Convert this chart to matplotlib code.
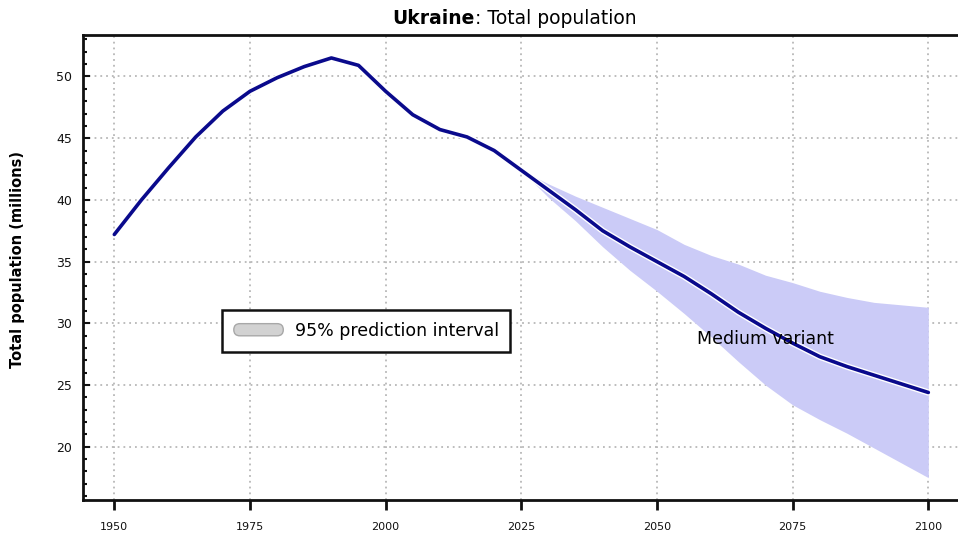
import matplotlib
matplotlib.use("Agg")
import matplotlib.pyplot as plt
import matplotlib.patheffects as pe
import matplotlib.patches as mpatches
from matplotlib.legend_handler import HandlerPatch
from matplotlib.ticker import MultipleLocator

years = [1950, 1955, 1960, 1965, 1970, 1975, 1980, 1985, 1990, 1995, 2000,
         2005, 2010, 2015, 2020, 2025, 2030, 2035, 2040, 2045, 2050, 2055,
         2060, 2065, 2070, 2075, 2080, 2085, 2090, 2095, 2100]
population = [37.2, 40.0, 42.6, 45.1, 47.2, 48.8, 49.9, 50.8, 51.5, 50.9, 48.8,
              46.9, 45.7, 45.1, 44.0, 42.4, 40.8, 39.2, 37.5, 36.2, 35.0, 33.8,
              32.4, 30.9, 29.6, 28.4, 27.3, 26.5, 25.8, 25.1, 24.4]

band_years = [2025, 2030, 2035, 2040, 2045, 2050, 2055, 2060, 2065, 2070,
              2075, 2080, 2085, 2090, 2095, 2100]
band_lower = [42.4, 40.2, 38.3, 36.2, 34.3, 32.6, 30.8, 28.9, 26.9, 25.0,
              23.4, 22.2, 21.1, 19.9, 18.7, 17.5]
band_upper = [42.4, 41.3, 40.3, 39.4, 38.5, 37.6, 36.4, 35.5, 34.8, 33.9,
              33.3, 32.6, 32.1, 31.7, 31.5, 31.3]

x_ticks = [1950, 1975, 2000, 2025, 2050, 2075, 2100]
y_ticks = [20, 25, 30, 35, 40, 45, 50]

plt.rcParams['font.family'] = ['DejaVu Sans']


def pill(legend, orig_handle, xdescent, ydescent, width, height, fontsize):
    return mpatches.FancyBboxPatch(
        (-xdescent, -ydescent), width, height,
        boxstyle=f"round,pad=0,rounding_size={height / 2}")


fig = plt.figure(figsize=(9.58, 5.36), dpi=100)
ax = fig.add_axes([83 / 958, 36 / 536, 875 / 958, 465 / 536])

ax.fill_between(band_years, band_lower, band_upper, color='#cbcbf7',
                linewidth=0, zorder=2)
ax.plot(years, population, color='#0a0a8c', linewidth=2.6, zorder=3,
        solid_capstyle='round', solid_joinstyle='round',
        path_effects=[pe.Stroke(linewidth=4.6, foreground='white'), pe.Normal()])

ax.text(2070, 28.7, "Medium variant", fontsize=12.5, ha='center', va='center',
        color='#000000', zorder=4)

ax.set_xlim(1944.23, 2105.47)
ax.set_ylim(15.69, 53.36)
ax.set_xticks(x_ticks)
ax.set_yticks(y_ticks)
ax.yaxis.set_minor_locator(MultipleLocator(1))

ax.grid(True, which='major', color='#b8b8b8', linestyle=(0, (1, 2.2)),
        linewidth=1.3, zorder=1)
ax.set_axisbelow(True)

for side in ['left', 'bottom', 'top']:
    ax.spines[side].set_linewidth(2)
    ax.spines[side].set_color('#111111')
ax.spines['right'].set_visible(False)

ax.tick_params(axis='x', direction='out', length=7, width=2, labelsize=8,
               pad=9, colors='#111111')
ax.tick_params(axis='y', which='major', direction='in', length=5, width=1.5,
               labelsize=9, pad=8, colors='#111111')
ax.tick_params(axis='y', which='minor', direction='in', length=3, width=1.5,
               colors='#111111')

# legend with a pill-shaped grey handle
handle = mpatches.Patch(facecolor='#d2d2d2', edgecolor='#a8a8a8', linewidth=1)
leg = ax.legend([handle], ["95% prediction interval"], loc='upper left',
                bbox_to_anchor=(222 / 958, 1 - 310 / 536),
                bbox_transform=fig.transFigure, borderaxespad=0,
                handler_map={mpatches.Patch: HandlerPatch(patch_func=pill)},
                fontsize=12.5, handlelength=2.85, handleheight=0.7,
                handletextpad=0.65, borderpad=0.68, fancybox=False,
                framealpha=1, edgecolor='#111111')
leg.get_frame().set_linewidth(1.8)

# title: bold country name followed by regular text
t1 = fig.text(475 / 958, 1 - 18 / 536, "Ukraine", fontsize=13.5,
              fontweight='bold', ha='right', va='center')
ax.annotate(": Total population", xy=(1, 0.5), xycoords=t1, fontsize=13.5,
            ha='left', va='center')

fig.text(18 / 958, 1 - 260 / 536, "Total population (millions)", fontsize=10.5,
         fontweight='bold', rotation=90, ha='center', va='center')

fig.savefig("out.png", dpi=100)
